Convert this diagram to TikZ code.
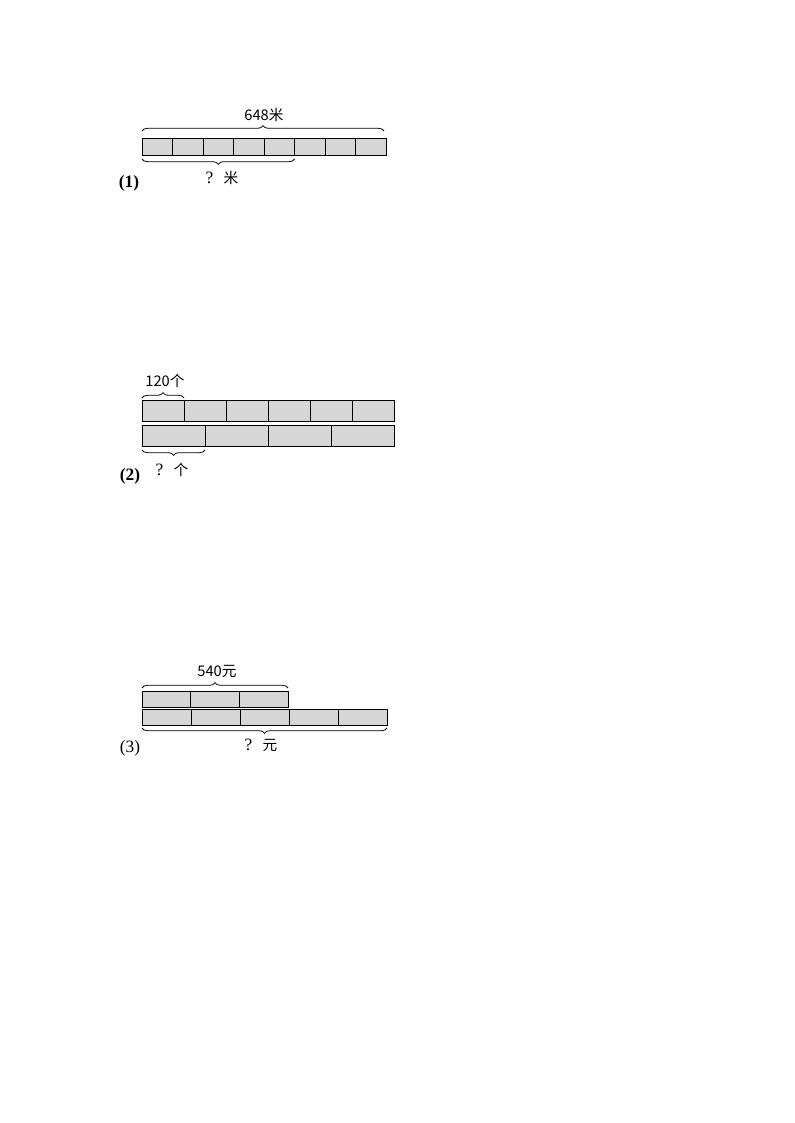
\documentclass[tikz,border=0pt]{standalone}
\usepackage{fontspec}
\newfontfamily\cjk{Noto Sans CJK SC}
\newfontfamily\tms{Liberation Serif}
\usetikzlibrary{decorations.pathreplacing}
\newcommand{\qmk}{{\tms\fontsize{13}{15}\selectfont ?}}
\begin{document}
\begin{tikzpicture}[x=0.75pt,y=-0.75pt,
  seg/.style={draw=black,line width=0.6pt,fill=gray!32},
  brc/.style={decorate,decoration={brace,amplitude=4pt,raise=0pt},line width=0.6pt,draw=black},
  lbl/.style={font=\cjk\fontsize{11}{13}\selectfont,inner sep=1pt},
  num/.style={font=\tms\fontsize{13}{15}\selectfont,inner sep=1pt}]
\useasboundingbox (0,0) rectangle (794,1123);
% ---------- (1) ----------
\foreach \i in {0,...,7}{
  \draw[seg] ({142+\i*30.5},138) rectangle ({142+(\i+1)*30.5},155);
}
\coordinate (a1) at (142,131);
\coordinate (b1) at (384,131);
\coordinate (c1) at (142,159);
\coordinate (d1) at (294.5,159);
\draw[brc] (a1) -- (b1);
\draw[brc] (d1) -- (c1);
\node[lbl] (t1) at (264,115) {648米};
\node[lbl] (q1) at (222,178) {\qmk\hspace{0.7em}米};
\node[num] (n1) at (129,183) {\bfseries (1)};
% ---------- (2) ----------
\foreach \i in {0,...,5}{
  \draw[seg] ({142+\i*42},400) rectangle ({142+(\i+1)*42},421);
}
\foreach \i in {0,...,3}{
  \draw[seg] ({142+\i*63},425) rectangle ({142+(\i+1)*63},446);
}
\coordinate (a2) at (142,398);
\coordinate (b2) at (184,398);
\coordinate (c2) at (142,450);
\coordinate (d2) at (205,450);
\draw[brc] (a2) -- (b2);
\draw[brc] (d2) -- (c2);
\node[lbl] (t2) at (165,381) {120个};
\node[lbl] (q2) at (172,470) {\qmk\hspace{0.7em}个};
\node[num] (n2) at (130,476) {\bfseries (2)};
% ---------- (3) ----------
\foreach \i in {0,...,2}{
  \draw[seg] ({142+\i*48.7},691) rectangle ({142+(\i+1)*48.7},707);
}
\foreach \i in {0,...,4}{
  \draw[seg] ({142+\i*49},709) rectangle ({142+(\i+1)*49},725);
}
\coordinate (a3) at (142,688);
\coordinate (b3) at (288,688);
\coordinate (c3) at (142,728);
\coordinate (d3) at (387,728);
\draw[brc] (a3) -- (b3);
\draw[brc] (d3) -- (c3);
\node[lbl] (t3) at (217,671) {540元};
\node[lbl] (q3) at (261,745) {\qmk\hspace{0.7em}元};
\node[num] (n3) at (130,748) {(3)};
\end{tikzpicture}
\end{document}
